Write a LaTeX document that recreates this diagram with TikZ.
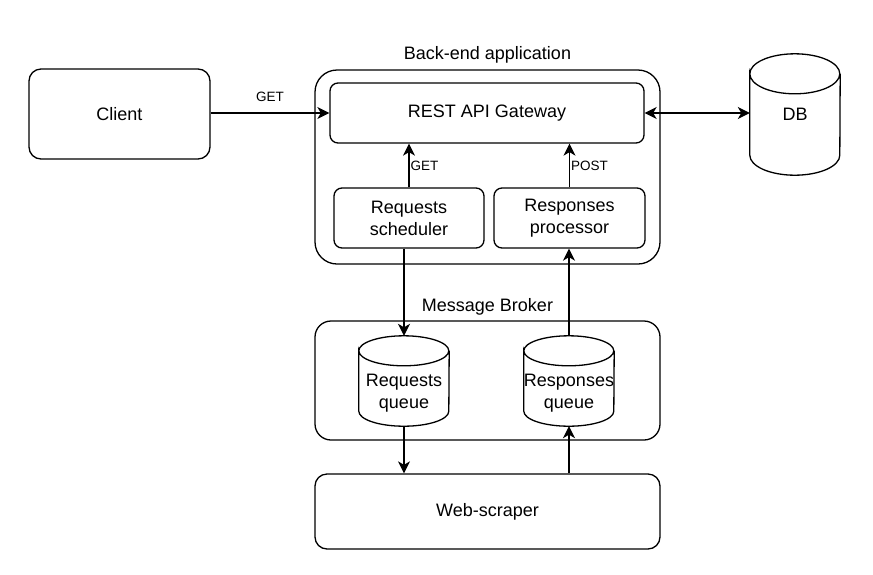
\documentclass[tikz,border=0pt]{standalone}
\usepackage{fontspec}
\setmainfont{Liberation Sans}
\usetikzlibrary{positioning,arrows.meta}
\begin{document}
\begin{tikzpicture}[x=1pt,y=-1pt,
        box/.style={draw, line width=1.3pt, rounded corners=#1, inner sep=0pt, font=\fontsize{18}{22}\selectfont, align=center},
        box/.default=9pt,
        cyl/.style={inner sep=0pt, minimum width=90pt, font=\fontsize{18}{22}\selectfont, align=center},
        cyltext/.style={inner sep=0pt, yshift=-12pt, font=\fontsize{18}{22}\selectfont, align=center},
        caption/.style={inner sep=0pt, font=\fontsize{18}{22}\selectfont},
        tag/.style={inner sep=1pt, font=\fontsize{13.5}{16}\selectfont},
        flow/.style={line width=1.3pt, -{Stealth[length=12pt,width=12pt,inset=3.5pt]}},
        both/.style={line width=1.3pt, {Stealth[length=12pt,width=12pt,inset=3.5pt]}-{Stealth[length=12pt,width=12pt,inset=3.5pt]}}]
        \useasboundingbox (0,0) rectangle (873,574);

        %boxes of the back-end
        \node[box=12pt, minimum width=181pt, minimum height=90pt] (client) at (119.5,114) {Client};
        \node[box=22pt, minimum width=345pt, minimum height=194pt] (backend) at (487.5,167) {};
        \node[box=8pt, minimum width=314pt, minimum height=60pt] (gateway) at (487,113) {REST API Gateway};
        \node[box=8pt, minimum width=150pt, minimum height=60pt] (scheduler) at (409,218) {Requests\\scheduler};
        \node[box=8pt, minimum width=151pt, minimum height=60pt] (processor) at (569.5,218) {Responses\\processor};
        \node[caption, above=6pt of backend] (betitle) {Back-end application};

        %broker and scraper
        \node[box=16pt, minimum width=345pt, minimum height=119pt] (broker) at (487.5,380.5) {};
        \node[caption, above=5pt of broker] (mbtitle) {Message Broker};
        \node[box=12pt, minimum width=345pt, minimum height=75pt] (scraper) at (487.5,511.5) {Web-scraper};

        %cylinders
        \node[cyl, minimum height=121pt] (db) at (795,114.5) {DB};
        \node[cyl, minimum height=90pt, label={[cyltext]center:{Requests\\queue}}] (reqq) at (404,381) {};
        \node[cyl, minimum height=90pt, label={[cyltext]center:{Responses\\queue}}] (respq) at (569,381) {};
        \foreach \c/\r in {db/20,reqq/15,respq/15}{
            \draw[line width=1.3pt] ([yshift=-\r pt]\c.north west) arc[start angle=180,end angle=-180,x radius=45pt,y radius=\r pt]
                -- ([yshift=\r pt]\c.south west) arc[start angle=180,end angle=360,x radius=45pt,y radius=\r pt]
                -- ([yshift=-\r pt]\c.north east);
        }

        %connectors
        \draw[flow] (client.east |- gateway) -- node[tag, above=10pt] {GET} (gateway);
        \draw[both] (gateway) -- (gateway -| db.west);
        \draw[flow] (scheduler.north) -- node[tag, right] {GET} (scheduler.north |- gateway.south);
        \draw[flow] (processor.north) -- node[tag, right] {POST} (processor.north |- gateway.south);
        \draw[flow] (reqq.north |- scheduler.south) -- (reqq.north);
        \draw[flow] (respq.north) -- (respq.north |- processor.south);
        \draw[flow] (reqq.south) -- (reqq.south |- scraper.north);
        \draw[flow] (respq.south |- scraper.north) -- (respq.south);
\end{tikzpicture}
\end{document}
